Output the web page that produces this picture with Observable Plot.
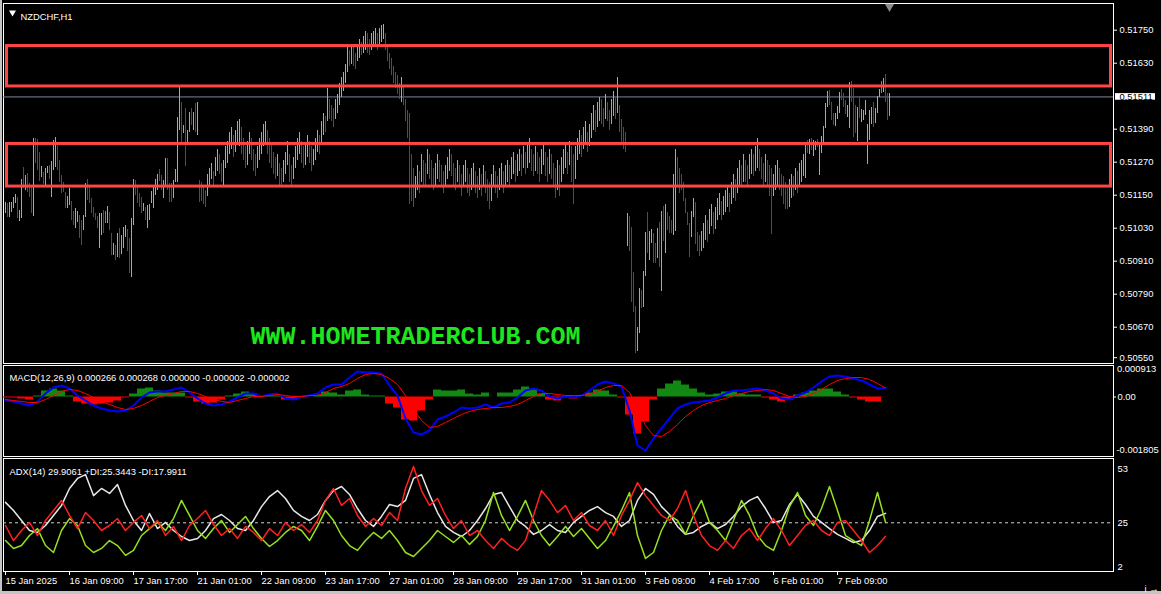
<!DOCTYPE html>
<html><head><meta charset="utf-8">
<script src="https://cdn.jsdelivr.net/npm/d3@7"></script>
<script src="https://cdn.jsdelivr.net/npm/@observablehq/plot@0.6"></script>
<style>
html,body{margin:0;padding:0;background:#000;}
#chart{position:relative;width:1161px;height:594px;background:#000;overflow:hidden;font-family:"Liberation Sans",Arial,sans-serif;}
.edge{position:absolute;background:#c4c4c4;}
</style></head><body><div id="chart"><div class="edge" style="left:0;top:0;width:2px;height:594px"></div><div class="edge" style="left:0;top:591px;width:1161px;height:3px"></div></div>
<script>
// ---------- price bars (values in 1e-5 above 0.50000) ----------
const barHigh = [
1128,1125,1128,1128,1146,1156,1146,1098,1211,1256,
1225,1234,1195,1183,1361,1359,1355,1310,1258,1237,
1250,1258,1262,1277,1352,1365,1334,1280,1225,1201,
1165,1149,1177,1132,1096,1104,1096,1080,1062,1080,
1197,1212,1183,1140,1108,1088,1076,1086,1086,1098,
1096,1113,1092,1013,977,971,1016,1031,1007,1037,
1043,1028,995,1068,1211,1207,1183,1159,1144,1122,
1110,1116,1120,1168,1183,1209,1228,1246,1225,1207,
1286,1286,1195,1197,1207,1246,1437,1544,1492,1407,
1468,1389,1456,1468,1456,1488,1492,1207,1200,1190,
1170,1230,1250,1270,1240,1290,1320,1300,1270,1280,
1330,1350,1380,1400,1370,1390,1420,1430,1400,1360,
1330,1350,1380,1360,1320,1300,1330,1360,1380,1410,
1420,1390,1360,1340,1310,1290,1300,1270,1250,1280,
1310,1350,1300,1260,1290,1330,1360,1380,1350,1330,
1340,1370,1350,1330,1320,1360,1390,1370,1420,1450,
1440,1540,1500,1480,1470,1500,1520,1560,1580,1600,
1630,1690,1680,1700,1690,1670,1700,1720,1710,1730,
1750,1740,1720,1740,1750,1760,1740,1760,1770,1775,
1740,1700,1670,1650,1620,1600,1590,1560,1580,1550,
1500,1460,1450,1300,1250,1220,1260,1240,1300,1280,
1270,1320,1300,1280,1250,1270,1300,1280,1260,1240,
1260,1290,1320,1300,1270,1250,1280,1260,1230,1260,
1280,1250,1230,1250,1270,1240,1220,1250,1230,1260,
1240,1210,1200,1230,1260,1240,1220,1250,1270,1240,
1260,1280,1260,1290,1310,1280,1300,1320,1300,1330,
1310,1340,1360,1320,1300,1330,1310,1290,1320,1340,
1310,1290,1320,1300,1270,1250,1280,1260,1290,1320,
1340,1310,1350,1330,1300,1330,1360,1390,1370,1400,
1420,1380,1410,1450,1480,1460,1490,1510,1500,1470,
1520,1490,1460,1500,1530,1510,1580,1480,1430,1400,
1380,1088,1076,1037,874,749,674,813,807,877,
1019,1092,1023,1029,1016,979,1031,1056,1096,1113,
1120,1092,1076,1062,1230,1320,1290,1250,1230,1200,
1140,1092,1050,1096,1140,1128,1019,1007,1020,1050,
1080,1060,1100,1120,1090,1110,1140,1160,1130,1150,
1170,1190,1160,1200,1230,1210,1250,1280,1260,1300,
1280,1260,1300,1320,1300,1330,1360,1320,1290,1270,
1300,1280,1260,1250,1230,1260,1280,1250,1230,1220,
1200,1180,1210,1230,1220,1250,1240,1270,1280,1300,
1334,1353,1355,1359,1353,1350,1355,1334,1367,1404,
1486,1532,1534,1492,1452,1450,1476,1526,1537,1525,
1498,1480,1565,1568,1540,1480,1474,1510,1464,1462,
1498,1411,1462,1474,1492,1470,1513,1537,1568,1579,
1593,1525,1522];
const barLow = [
1088,1074,1074,1092,1104,1122,1070,1059,1070,1177,
1171,1165,1144,1086,1077,1270,1243,1205,1219,1193,
1189,1234,1211,1146,1243,1256,1243,1201,1159,1165,
1104,1104,1116,1062,1043,1031,1056,995,971,1025,
1074,1134,1122,1086,1074,1062,1031,959,1007,1013,
1050,1052,1025,934,934,916,928,922,938,959,
1001,950,868,853,1043,1153,1122,1110,1088,1096,
1062,1031,1062,1122,1104,1153,1171,1203,1171,1140,
1183,1171,1128,1128,1140,1201,1201,1389,1340,1377,
1258,1334,1383,1407,1389,1383,1371,1128,1130,1120,
1110,1150,1190,1210,1180,1220,1240,1230,1200,1190,
1250,1270,1300,1320,1290,1310,1340,1330,1300,1280,
1250,1260,1300,1280,1240,1220,1250,1280,1300,1330,
1340,1300,1270,1250,1230,1210,1220,1190,1180,1200,
1230,1260,1200,1190,1210,1250,1280,1300,1270,1250,
1260,1290,1270,1240,1260,1280,1310,1300,1340,1370,
1380,1420,1430,1420,1400,1430,1450,1480,1510,1530,
1560,1600,1620,1630,1620,1610,1640,1650,1660,1670,
1680,1670,1660,1680,1690,1700,1680,1700,1710,1720,
1680,1640,1610,1590,1560,1540,1520,1500,1490,1480,
1420,1360,1120,1130,1110,1140,1170,1160,1200,1190,
1180,1230,1210,1190,1170,1180,1210,1200,1180,1160,
1190,1210,1240,1220,1190,1170,1200,1180,1150,1180,
1200,1160,1150,1170,1190,1160,1140,1170,1150,1180,
1160,1130,1100,1130,1180,1160,1140,1170,1190,1160,
1180,1200,1180,1210,1230,1200,1220,1240,1220,1250,
1230,1250,1270,1240,1220,1240,1230,1200,1230,1260,
1220,1200,1230,1210,1180,1140,1170,1150,1200,1230,
1250,1230,1260,1200,1120,1210,1280,1300,1290,1320,
1340,1310,1330,1360,1390,1380,1400,1420,1410,1400,
1430,1420,1390,1410,1440,1430,1450,1380,1340,1320,
1310,967,950,765,728,577,587,652,740,744,
858,940,916,979,904,904,922,890,805,987,
940,1025,1016,1013,1007,1023,1180,1160,1171,1130,
1086,1043,928,1001,1071,974,950,931,950,960,
990,980,1010,1040,1010,1030,1060,1080,1060,1080,
1090,1110,1090,1120,1140,1130,1160,1190,1180,1200,
1200,1180,1210,1230,1220,1240,1250,1240,1210,1190,
1200,1180,1150,1010,1150,1170,1190,1170,1150,1120,
1100,1100,1110,1140,1150,1170,1160,1180,1200,1220,
1213,1304,1302,1316,1294,1316,1326,1225,1307,1347,
1395,1474,1480,1425,1407,1404,1428,1450,1498,1474,
1447,1435,1395,1492,1365,1377,1350,1431,1419,1425,
1443,1265,1353,1411,1401,1416,1450,1508,1525,1528,
1492,1425,1440];
// u = bull bar, d = bear bar, n = doji
const barDir = (
"uduuuuduud"+"udddudddud"+"uuduuudddd"+"duudduuddu"+"udddddduud"+
"nuddududuu"+"udduuddddu"+"duuuuuuddu"+"uddduuuudu"+"duudududdd"+
"duuuduuddu"+"uuuuduuudd"+"duuddduuuu"+"uddddduddu"+"uudduuuudd"+
"uudduuuduu"+"duddduuuuu"+"uududduudu"+"udduuuduuu"+"ddddddddud"+
"ddddduudud"+"duddduuddd"+"uuuddduddu"+"udduuddudu"+"ddduudduud"+
"uuduuduudu"+"duuddudduu"+"dduddduduu"+"ududduuudu"+"uduuuduudd"+
"udduududdd"+"dudddduudu"+"uduuddudud"+"uddduudddd"+"ddduuddduu"+
"uduuduuudu"+"uuduuduudu"+"dduuduuddd"+"uddduuuddd"+"dduududuuu"+
"ududuuduuu"+"uuddduuudd"+"duuddduduu"+"uuuuduuunu"+"ddu").split("");
const lastPrice = 0.51511;
const priceTicks = [0.50670,0.50790,0.50910,0.51030,0.51150,0.51270,0.51390,0.51630,0.51750];
const priceBottomTick = [0.50550];
const zoneHigh = [0.51696, 0.51340];
const zoneLow  = [0.51549, 0.51185];
const symbolTitle = ["NZDCHF,H1"];
const watermark = ["WWW.HOMETRADERCLUB.COM"];

// ---------- MACD (every 4th bar, values in 1e-6) ----------
const macdBarStep = [0,4,8,12,16,20,24,28,32,36];
const macdMain = [
-103,-132,-191,-250,-132,103,279,338,250,44,
-103,-250,-338,-397,-426,-397,-250,-15,132,162,
162,221,279,132,-44,-191,-250,-221,-132,-15,
103,103,15,74,103,-44,-74,15,44,103,
279,368,368,573,750,720,720,691,338,44,
-632,-1044,-1103,-985,-662,-573,-456,-309,-338,-309,
-221,-309,-191,-162,-15,191,250,191,15,-44,
15,-15,44,191,368,456,397,309,-397,-1426,
-1573,-1220,-926,-632,-338,-221,-162,-132,-103,-15,
103,191,191,221,250,191,103,-44,-74,44,
132,279,456,603,632,603,544,485,368,250,
266];
const macdSignal = [
-74,-103,-132,-162,-162,-74,44,162,221,191,
103,-15,-132,-221,-309,-368,-338,-250,-132,-15,
44,103,162,162,103,15,-74,-132,-162,-103,
-44,15,15,44,74,44,15,15,44,44,
132,250,309,397,544,662,691,662,544,368,
44,-338,-691,-897,-867,-750,-632,-515,-426,-368,
-338,-309,-309,-279,-221,-103,15,103,103,74,
44,44,44,74,162,279,338,338,132,-338,
-838,-1132,-1161,-1014,-809,-573,-397,-250,-162,-103,
-44,44,103,162,191,221,191,103,15,-15,
15,103,221,368,485,544,573,573,515,397,
268];
const macdTop = 0.000913, macdBottom = -0.001805;
const macdTitle = ["MACD(12,26,9) 0.000266 0.000268 0.000000 -0.000002 -0.000002"];

// ---------- ADX (every 4th bar) ----------
const adxLine = [
35.6,31.4,26.2,21,20,23.6,28.8,34,42.8,48,
50,39.1,42.8,40.2,44.8,34,26.2,21,29.8,22,
25.2,21,17.9,15.8,16.9,21,27.2,29.3,26.2,22,
21,26.2,33.4,38.6,41.7,37.6,31.4,28.3,26.2,29.3,
36.6,41.7,43.8,39.7,32.4,26.2,23.1,28.3,34.5,33.4,
36.6,48,50,39.7,30.3,23.1,20,17.9,21,26.2,
32.4,39.7,40.7,33.4,26.2,23.1,19,21,24.1,21,
20,25.2,28.3,31.4,33.4,30.3,28.3,23.1,26.2,36.6,
42.8,39.7,33.4,29.3,23.1,19,20,23.1,25.2,22,
24.1,28.3,33.4,36.6,38.6,32.4,25.2,26.2,34.5,39.7,
34.5,28.3,25.2,22,19,16.9,14.8,15.8,21,28.3,
29.9];
const plusDI = [
15.8,11.7,13.2,18.4,22,13.2,9.6,21,27.2,23.6,
13.2,9.6,11.7,15.8,13.2,8.1,10.7,18.4,22,25.2,
21,27.2,36.6,28.8,21,16.9,22,26.2,20,24.1,
28.3,22,16.9,12.7,15.8,20,23.1,21,15.8,23.1,
31.4,26.2,18.4,13.2,10.7,15.8,20,16.9,21,15.8,
9.6,7.5,11.7,15.8,21,17.9,14.8,18.4,13.8,17.9,
26.2,40.7,28.8,21,28.3,36.6,26.2,18.4,13.2,17.9,
23.1,17.9,22,16.9,11.7,15.8,23.1,31.4,40.7,18.4,
6.5,9.6,21,28.8,26.2,19,28.8,36.6,25.2,21,
15.8,26.2,36.6,28.8,18.4,13.2,10.7,21,33.4,40.7,
28.8,23.6,32.4,43.8,31.4,18.4,15.8,13.2,26.2,40.7,
25.3];
const minusDI = [
23.6,15.8,21,25.2,18.4,26.2,31.4,36.6,28.8,22,
30.3,26.2,21,23.6,27.2,21,25.2,28.8,22,26.2,
18.4,23.1,15.8,23.6,27.2,31.4,24.1,18.4,22,16.9,
23.1,20,15.8,22,18.4,25.2,21,24.1,20,26.2,
36.6,42.8,34,37.6,28.8,23.1,27.2,23.6,30.3,26.2,
42.8,54.2,41.7,34,37.6,28.8,22,26.2,18.4,21,
15.8,11.7,16.9,13.2,10.7,15.8,28.8,41.7,36.6,30.3,
34,26.2,30.3,23.6,21,26.2,18.4,28.8,36.6,45.8,
39.1,34,28.8,26.2,32.4,41.7,28.8,18.4,13.2,10.7,
15.8,11.7,18.4,22,15.8,22,27.2,21,13.2,18.4,
23.6,26.2,21,18.4,25.2,26.2,21,15.8,9.6,13.2,
18];
const adxTicks = [2, 25, 53];
const adxTitle = ["ADX(14) 29.9061 +DI:25.3443 -DI:17.9911"];

// ---------- time axis ----------
const timeTicks = [0,32,64,96,128,160,192,224,256,288,320,352,384,416];
const timeLabels = ["15 Jan 2025","16 Jan 09:00","17 Jan 17:00","21 Jan 01:00","22 Jan 09:00","23 Jan 17:00","27 Jan 01:00","28 Jan 09:00","29 Jan 17:00","31 Jan 01:00","3 Feb 09:00","4 Feb 17:00","6 Feb 01:00","7 Feb 09:00"];

// ---------- build ----------
const dirColor = {u: "#2fdcdc", d: "#d01818", n: "#22c822"};
const bars = barHigh.map((h, i) => {
  const hi = 0.5 + h / 1e5, lo = 0.5 + barLow[i] / 1e5;
  let dir = barDir[i];
  if (!dir || !(dir in dirColor)) dir = i > 0 && (h + barLow[i]) >= (barHigh[i-1] + barLow[i-1]) ? "u" : "d";
  return {i, hi, lo, dir};
});
const zones = zoneHigh.map((h, k) => ({hi: h, lo: zoneLow[k]}));
const step = macdBarStep[1] - macdBarStep[0];
const macd = macdMain.map((m, k) => ({i: k * step, m: m * 1e-6, s: macdSignal[k] * 1e-6, h: (m - macdSignal[k]) * 1e-6}));
const adx = adxLine.map((a, k) => ({i: k * step, adx: a, pdi: plusDI[k], mdi: minusDI[k]}));

const chart = document.getElementById("chart");
const X = {domain: [0, 554], range: [5, 1113], axis: null};
const font = "'Liberation Sans', Arial, sans-serif";
const style = {background: "transparent", color: "#ffffff", fontFamily: font, fontSize: "9.4px", overflow: "visible"};
function place(svg, top) { svg.style.position = "absolute"; svg.style.left = "0px"; svg.style.top = top + "px"; chart.appendChild(svg); }

const pricePlot = Plot.plot({
  width: 1161, height: 365, marginTop: 3, marginBottom: 2, marginLeft: 3, marginRight: 48,
  x: X, y: {domain: [0.5055, 0.5175], range: [360.7, 30.7], axis: null}, style,
  marks: [
    Plot.frame({stroke: "#ffffff"}),
    Plot.ruleY([lastPrice], {stroke: "#7d8896"}),
    Plot.ruleX(bars, {x: "i", y1: "lo", y2: "hi", stroke: d => dirColor[d.dir], strokeWidth: 1, shapeRendering: "crispEdges"}),
    Plot.rect(zones, {x1: 0.75, x2: 552.75, y1: "lo", y2: "hi", fill: "none", stroke: "#ff4545", strokeWidth: 3}),
    Plot.text(watermark, {x: 122.5, y: 0.50640, text: d => d, textAnchor: "start", fill: "#1ee61e", fontFamily: "'Liberation Mono','DejaVu Sans Mono',monospace", fontSize: 25, fontWeight: "bold"}),
    Plot.axisY(priceTicks, {anchor: "right", tickSize: 3, tickPadding: 3, dy: -1, tickFormat: d => d.toFixed(5)}),
    Plot.axisY(priceBottomTick, {anchor: "right", tickSize: 3, tickPadding: 3, dy: -3.5, tickFormat: d => d.toFixed(5)}),
    Plot.rect([lastPrice], {x1: 555, x2: 575, y1: d => d - 0.00012, y2: d => d + 0.00012, fill: "#ffffff"}),
    Plot.text([lastPrice], {y: d => d, frameAnchor: "right", dx: 6, textAnchor: "start", text: d => d.toFixed(5), fill: "#000000"}),
    Plot.text(symbolTitle, {frameAnchor: "top-left", dx: 17, dy: 9.5, text: d => d, textAnchor: "start", fill: "#ffffff"}),
    Plot.dot([0], {frameAnchor: "top-left", dx: 9, dy: 9, symbol: "triangle", rotate: 180, r: 2.6, fill: "#ffffff", stroke: "none"}),
    Plot.dot([bars.length - 1], {x: d => d, frameAnchor: "top", dy: 3, symbol: "triangle", rotate: 180, r: 3.5, fill: "#8a8a8a", stroke: "none"})
  ]
});
place(pricePlot, 0);

const macdPlot = Plot.plot({
  width: 1161, height: 92, marginTop: 0, marginBottom: 1, marginLeft: 3, marginRight: 48,
  x: X, y: {domain: [-0.0018, 0.0009], range: [92.7, 0.9], axis: null}, style,
  marks: [
    Plot.frame({stroke: "#ffffff"}),
    Plot.rect(macd, {x1: d => d.i - step / 2, x2: d => d.i + step / 2, y1: 0, y2: "h", fill: d => d.h >= 0 ? "#118811" : "#ff0000", clip: true}),
    Plot.line(macd, {x: "i", y: "m", stroke: "#0000ff", strokeWidth: 2}),
    Plot.line(macd, {x: "i", y: "s", stroke: "#ff0000", strokeWidth: 1}),
    Plot.axisY([0], {anchor: "right", tickSize: 2, tickPadding: 2, tickFormat: () => "0.00"}),
    Plot.text([macdTop], {y: d => d, frameAnchor: "right", dx: 3.5, dy: 3.5, textAnchor: "start", text: d => d.toFixed(6), fill: "#ffffff"}),
    Plot.text([macdBottom], {y: d => d, frameAnchor: "right", dx: 3, dy: -8, textAnchor: "start", text: d => d.toFixed(6), fill: "#ffffff"}),
    Plot.text(macdTitle, {frameAnchor: "top-left", dx: 6, dy: 9, text: d => d, textAnchor: "start", fill: "#ffffff"})
  ]
});
place(macdPlot, 365);

const adxPlot = Plot.plot({
  width: 1161, height: 136, marginTop: 0, marginBottom: 23, marginLeft: 3, marginRight: 48,
  x: X, y: {domain: [0, 60], range: [112.5, -3.2], axis: null}, style,
  marks: [
    Plot.frame({stroke: "#ffffff"}),
    Plot.ruleY([25], {stroke: "#d0d0d0", strokeDasharray: "3,3"}),
    Plot.line(adx, {x: "i", y: "adx", stroke: "#e8e8e8"}),
    Plot.line(adx, {x: "i", y: "pdi", stroke: "#96e01e"}),
    Plot.line(adx, {x: "i", y: "mdi", stroke: "#ff2020"}),
    Plot.axisY(adxTicks, {anchor: "right", tickSize: 0, tickPadding: 4}),
    Plot.axisX(timeTicks, {anchor: "bottom", tickSize: 4, tickPadding: 2, textAnchor: "start", tickFormat: d => timeLabels[timeTicks.indexOf(d)]}),
    Plot.text(adxTitle, {frameAnchor: "top-left", dx: 6, dy: 10, text: d => d, textAnchor: "start", fill: "#ffffff"})
  ]
});
place(adxPlot, 458);
</script></body></html>
